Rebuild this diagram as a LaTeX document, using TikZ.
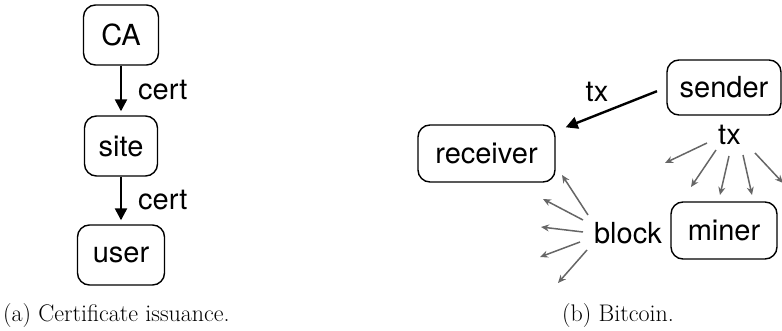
\documentclass[tikz,border=0pt]{standalone}
\usepackage{fontspec}
\newfontfamily\hv{TeX Gyre Heros}
\usetikzlibrary{arrows.meta,calc}
\begin{document}
\begin{tikzpicture}[x=1pt,y=-1pt,
  box/.style={draw, line width=1.4pt, rounded corners=12pt, inner sep=0pt, font=\hv\fontsize{29}{34}\selectfont},
  lbl/.style={inner sep=0pt, font=\hv\fontsize{29}{34}\selectfont},
  bigarrow/.style={line width=2.4pt, -{Triangle[length=12pt,width=12pt]}},
  fan/.style={draw=black!60, line width=1.5pt, -{Stealth[length=8pt,width=7pt]}},
  capt/.style={inner sep=0pt, anchor=base west, font=\fontsize{24}{28}\selectfont}
]
\clip (0,0) rectangle (782,331);
% (a) certificate issuance
\node[box, minimum width=75pt, minimum height=60pt] (ca) at (121,35) {CA};
\node[box, minimum width=73pt, minimum height=60pt] (site) at (121,146) {site};
\node[box, minimum width=87pt, minimum height=60pt] (user) at (121,255) {user};
\draw[bigarrow, shorten >=4pt] (ca) -- (site);
\draw[bigarrow, shorten >=4pt] (site) -- (user);
\node[lbl, anchor=base west] (cert1) at (138,100) {cert};
\node[lbl, anchor=base west] (cert2) at (138,210) {cert};
% (b) bitcoin
\node[box, minimum width=137pt, minimum height=57pt] (recv) at (486.5,153.5) {receiver};
\node[box, minimum width=114pt, minimum height=55pt] (send) at (724,87.5) {sender};
\node[box, minimum width=106pt, minimum height=57pt] (miner) at (724,230.5) {miner};
\node[lbl] (tx1) at (597,92) {tx};
\node[lbl] (tx2) at (729.5,135) {tx};
\node[lbl] (block) at (628,233) {block};
\draw[bigarrow, shorten <=10pt] (send.west) -- ($(recv.north east)+(10,3)$);
% tx fan
\coordinate (t1s) at ($(tx2)+(-22.5,8)$);  \coordinate (t1e) at ($(tx2)+(-64.5,28)$);
\coordinate (t2s) at ($(tx2)+(-13.5,15)$); \coordinate (t2e) at ($(tx2)+(-38.5,52)$);
\coordinate (t3s) at ($(tx2)+(-0.5,21)$);  \coordinate (t3e) at ($(tx2)+(-9.5,60)$);
\coordinate (t4s) at ($(tx2)+(13.5,20)$);  \coordinate (t4e) at ($(tx2)+(22.5,60)$);
\coordinate (t5s) at ($(tx2)+(25.5,18)$);  \coordinate (t5e) at ($(tx2)+(53.5,48)$);
\foreach \i in {1,...,5} \draw[fan] (t\i s) -- (t\i e);
% block fan
\coordinate (b1s) at ($(block)+(-40,-18)$); \coordinate (b1e) at ($(block)+(-66,-58)$);
\coordinate (b2s) at ($(block)+(-45,-13)$); \coordinate (b2e) at ($(block)+(-85,-34)$);
\coordinate (b3s) at ($(block)+(-45,-1)$);  \coordinate (b3e) at ($(block)+(-87,-6)$);
\coordinate (b4s) at ($(block)+(-48,9)$);   \coordinate (b4e) at ($(block)+(-88,24)$);
\coordinate (b5s) at ($(block)+(-41,17)$);  \coordinate (b5e) at ($(block)+(-70,50)$);
\foreach \i in {1,...,5} \draw[fan] (b\i s) -- (b\i e);
% captions
\node[capt] (capa) at (3,321) {(a) Certificate issuance.};
\node[capt] (capb) at (562,321) {(b) Bitcoin.};
\end{tikzpicture}
\end{document}
